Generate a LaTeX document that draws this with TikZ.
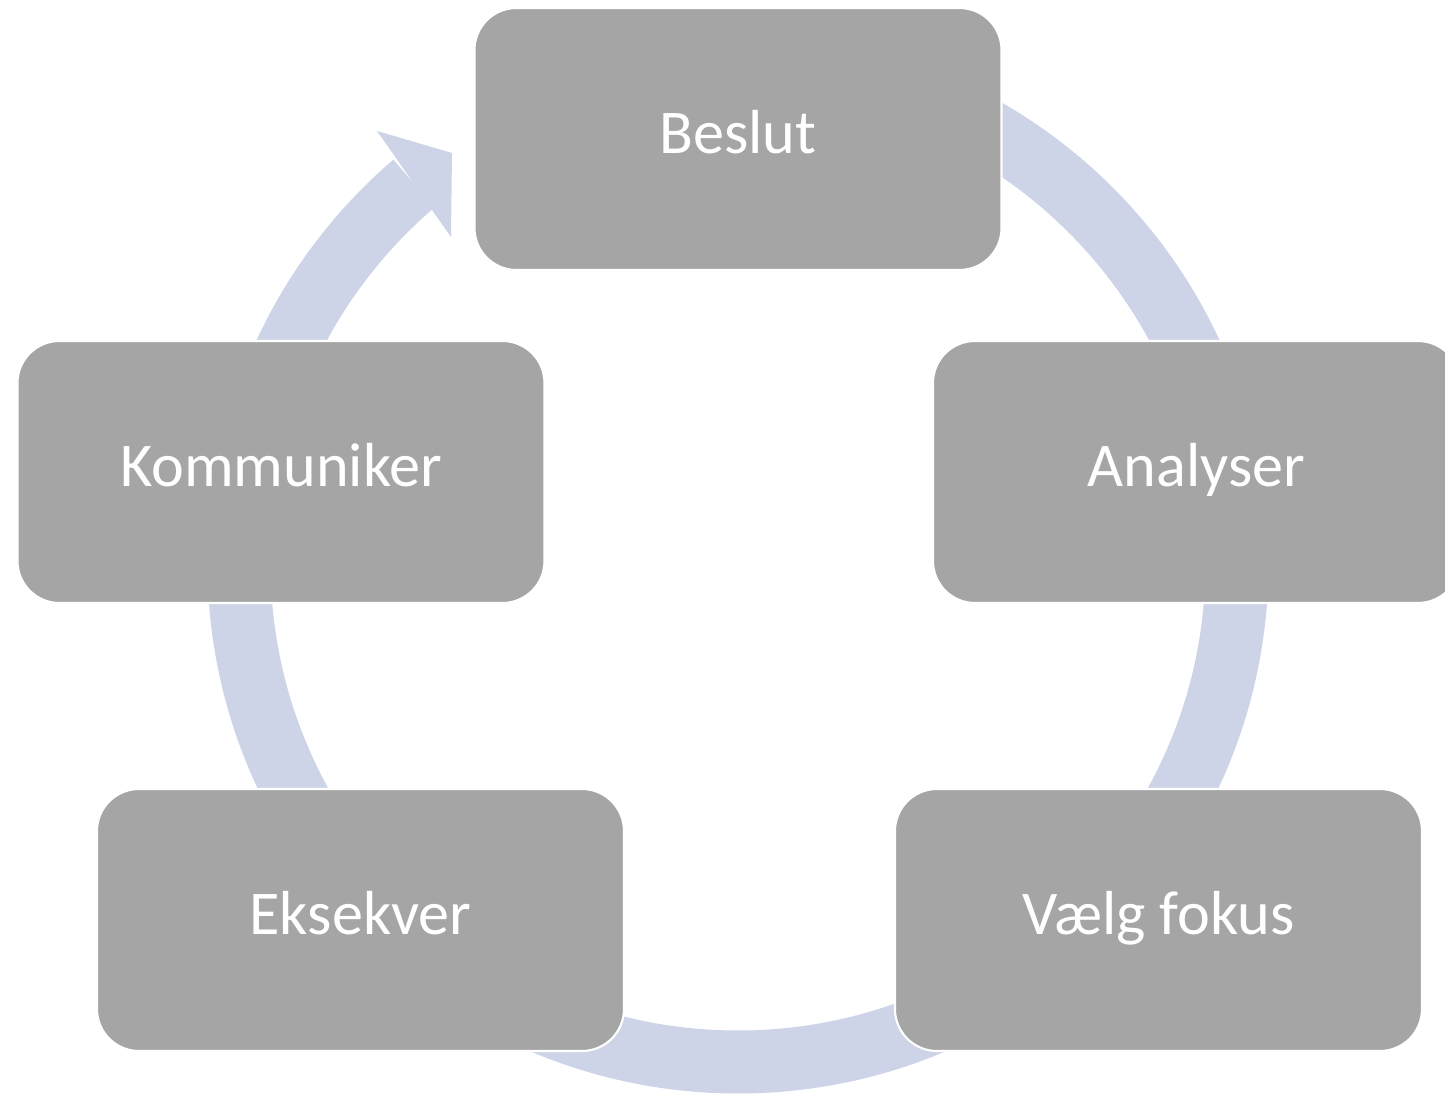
\documentclass[tikz,border=0pt]{standalone}
\usepackage{fontspec}
\setmainfont{Carlito}
\definecolor{ringblue}{HTML}{CDD4E8}
\definecolor{boxgray}{HTML}{A5A5A5}
\begin{document}
\begin{tikzpicture}[every node/.style={align=center},
	stage/.style={draw=white,line width=0.6pt,fill=boxgray,rounded corners=0.42cm,
		minimum width=5.27cm,minimum height=2.62cm,text=white,
		text height=12pt,text depth=4pt,
		font=\fontsize{17.7}{21}\selectfont}]
	\clip(-7.38,5.63)rectangle(7.07,-5.31);
	\fill[white](-7.38,5.63)rectangle(7.07,-5.31);
	\coordinate(o)at(0,0);
	% ring behind the stages
	\draw[ringblue,line width=0.63cm](o)++(90:4.99)arc[start angle=90,end angle=-229.5,radius=4.99];
	\coordinate(h1)at(-3.42,4.05);
	\coordinate(h2)at(-3.61,4.32);
	\coordinate(h3)at(-2.86,4.10);
	\coordinate(h4)at(-2.87,3.26);
	\coordinate(h5)at(-3.06,3.53);
	\fill[ringblue](h1)--(h2)--(h3)--(h4)--(h5)--cycle;
	% stages
	\node[stage](beslut)at(0,4.24){Beslut};
	\node[stage](analyser)at(4.585,0.91){Analyser};
	\node[stage](fokus)at(4.205,-3.57){Vælg fokus};
	\node[stage](eksekver)at(-3.775,-3.57){Eksekver};
	\node[stage](kommuniker)at(-4.57,0.91){Kommuniker};
\end{tikzpicture}
\end{document}
